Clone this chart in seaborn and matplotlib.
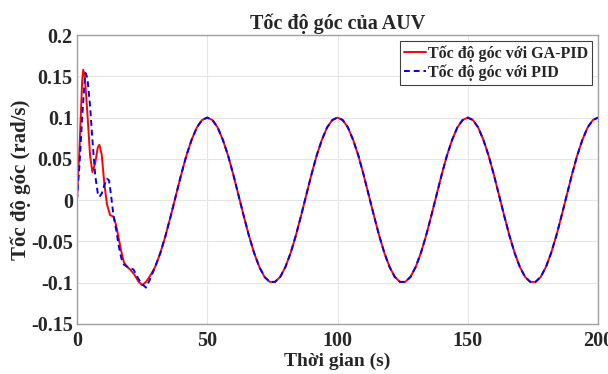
import numpy as np
import pandas as pd
import seaborn as sns
from matplotlib import pyplot as plt

# transient part, t in seconds
t_gapid = [0, 1, 2, 2.4, 3, 4, 5, 5.9, 7, 8, 8.6, 9.5, 10.5, 11.5, 12.7, 14,
           15, 16, 17, 18, 19, 20.4, 22, 23.5, 25, 26.5, 28]
w_gapid = [0, 0.065, 0.145, 0.158, 0.150, 0.105, 0.055, 0.034, 0.045, 0.064,
           0.067, 0.055, 0.020, -0.005, -0.018, -0.020, -0.030, -0.046, -0.062,
           -0.075, -0.080, -0.084, -0.090, -0.098, -0.103, -0.099, -0.092]

t_pid = [0, 1, 2, 3, 3.3, 4, 5, 6, 7, 8, 8.6, 9.5, 10.5, 11.5, 12.3, 13, 14,
         15, 16, 17, 18, 19, 20, 21.7, 23, 24.5, 26.5, 28]
w_pid = [0, 0.045, 0.100, 0.148, 0.154, 0.148, 0.115, 0.070, 0.030, 0.008,
         0.004, 0.008, 0.018, 0.026, 0.024, 0.008, -0.018, -0.035, -0.055,
         -0.070, -0.078, -0.080, -0.082, -0.084, -0.092, -0.100, -0.106, -0.096]

# steady tracking part, both controllers overlap (t = 30, 32, ..., 200)
t_steady = list(range(30, 201, 2))
w_steady = [
    -0.081, -0.064, -0.043, -0.019, 0.006, 0.031, 0.054, 0.073, 0.088, 0.097,
    0.100, 0.097, 0.088, 0.073, 0.054, 0.031, 0.006, -0.019, -0.043, -0.064,
    -0.081, -0.093, -0.099, -0.099, -0.093,
    -0.081, -0.064, -0.043, -0.019, 0.006, 0.031, 0.054, 0.073, 0.088, 0.097,
    0.100, 0.097, 0.088, 0.073, 0.054, 0.031, 0.006, -0.019, -0.043, -0.064,
    -0.081, -0.093, -0.099, -0.099, -0.093,
    -0.081, -0.064, -0.043, -0.019, 0.006, 0.031, 0.054, 0.073, 0.088, 0.097,
    0.100, 0.097, 0.088, 0.073, 0.054, 0.031, 0.006, -0.019, -0.043, -0.064,
    -0.081, -0.093, -0.099, -0.099, -0.093,
    -0.081, -0.064, -0.043, -0.019, 0.006, 0.031, 0.054, 0.073, 0.088, 0.097,
    0.100,
]

x_ticks = [0, 50, 100, 150, 200]
y_ticks = [-0.15, -0.1, -0.05, 0, 0.05, 0.1, 0.15, 0.2]
y_tick_labels = ['-0.15', '-0.1', '-0.05', '0', '0.05', '0.1', '0.15', '0.2']

LBL_GA = 'Tốc độ góc với GA-PID'
LBL_PID = 'Tốc độ góc với PID'

df = pd.concat([
    pd.DataFrame({'t': t_gapid + t_steady, 'w': w_gapid + w_steady, 'ctrl': LBL_GA}),
    pd.DataFrame({'t': t_pid + t_steady, 'w': w_pid + w_steady, 'ctrl': LBL_PID}),
], ignore_index=True)

sns.set_style('whitegrid', {'grid.color': '#e6e6e6', 'axes.edgecolor': '#a0a0a0'})
plt.rcParams['font.family'] = ['Liberation Serif', 'DejaVu Serif']
plt.rcParams['font.weight'] = 'bold'

fig = plt.figure(figsize=(6.08, 3.74), dpi=100)
ax = fig.add_axes([0.1266, 0.1337, 0.857, 0.7727])

sns.lineplot(data=df, x='t', y='w', hue='ctrl', style='ctrl',
             palette={LBL_GA: '#ff0000', LBL_PID: '#0000ff'},
             dashes={LBL_GA: '', LBL_PID: (3, 2)},
             linewidth=1.4, sort=False, estimator=None, ax=ax)

ax.set_xlim(0, 200)
ax.set_ylim(-0.15, 0.2)
ax.set_xticks(x_ticks)
ax.set_xticklabels([str(v) for v in x_ticks])
ax.set_yticks(y_ticks)
ax.set_yticklabels(y_tick_labels)
ax.tick_params(labelsize=14.5, pad=3, direction='in', length=3, color='#a0a0a0')
ax.tick_params(axis='x', pad=5)
for lbl in ax.get_xticklabels() + ax.get_yticklabels():
    lbl.set_fontweight('bold')

ax.set_xlabel('Thời gian (s)', fontsize=14, fontweight='bold', labelpad=1)
ax.set_ylabel('Tốc độ góc (rad/s)', fontsize=15, fontweight='bold', labelpad=0)
ax.set_title('Tốc độ góc của AUV', fontsize=14.5, fontweight='bold', pad=4)

leg = ax.legend(loc='upper right', fontsize=11.5, handlelength=1.4,
                handletextpad=0.1, borderpad=0.25, labelspacing=0.15,
                fancybox=False, framealpha=1, borderaxespad=0.4)
leg.get_frame().set_edgecolor('#404040')
leg.get_frame().set_linewidth(0.8)
for txt in leg.get_texts():
    txt.set_fontweight('bold')

for s in ax.spines.values():
    s.set_linewidth(1.0)

fig.savefig('out.png', dpi=100)
